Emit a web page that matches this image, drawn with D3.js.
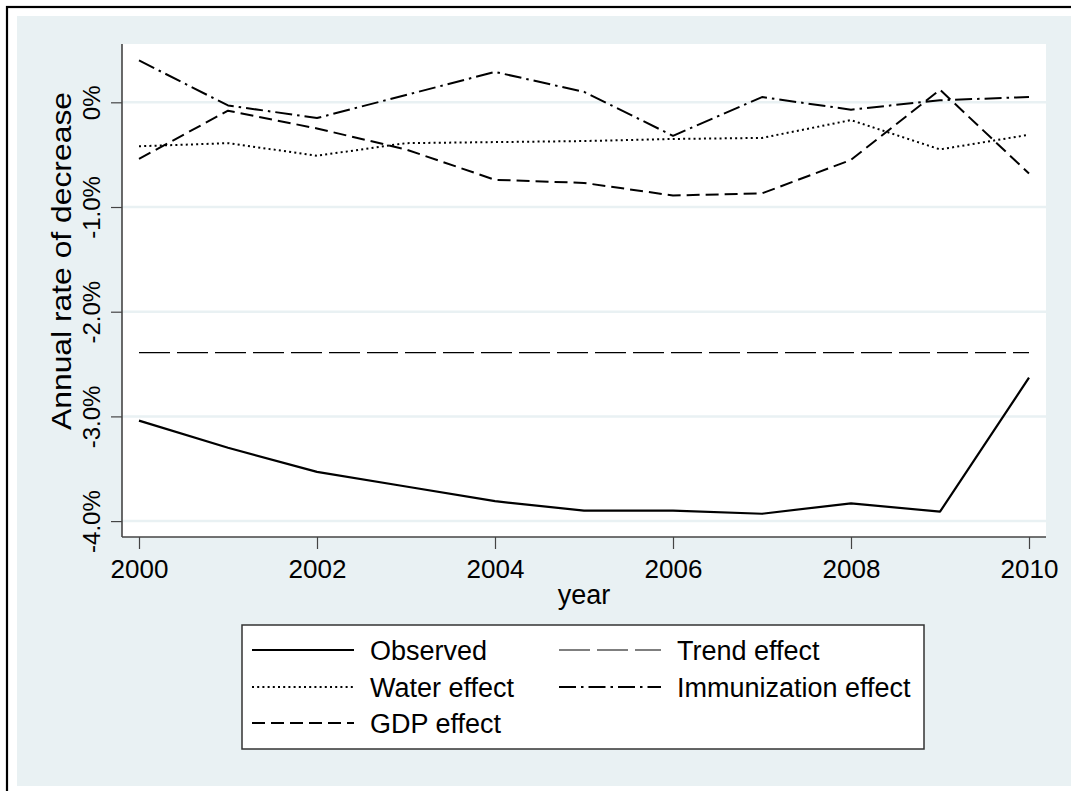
<!DOCTYPE html>
<html><head><meta charset="utf-8">
<script src="https://cdn.jsdelivr.net/npm/d3@7"></script>
<style>
html,body{margin:0;padding:0;background:#fff;}
svg{display:block;font-family:"Liberation Sans",Arial,Helvetica,sans-serif;}
</style></head>
<body>
<svg id="chart" width="1071" height="791"></svg>
<script>
const years = [2000,2001,2002,2003,2004,2005,2006,2007,2008,2009,2010];
const observed     = [-3.04,-3.30,-3.53,-3.67,-3.81,-3.90,-3.90,-3.93,-3.83,-3.91,-2.63];
const trendEffect  = [-2.39,-2.39,-2.39,-2.39,-2.39,-2.39,-2.39,-2.39,-2.39,-2.39,-2.39];
const waterEffect  = [-0.42,-0.39,-0.51,-0.39,-0.38,-0.37,-0.35,-0.34,-0.17,-0.45,-0.31];
const immunEffect  = [0.40,-0.03,-0.15,0.07,0.29,0.10,-0.32,0.05,-0.07,0.02,0.05];
const gdpEffect    = [-0.54,-0.08,-0.25,-0.45,-0.74,-0.77,-0.89,-0.87,-0.55,0.12,-0.68];
const yTicks = [0,-1,-2,-3,-4];
const yTickLabels = ["0%","-1.0%","-2.0%","-3.0%","-4.0%"];
const xTicks = [2000,2002,2004,2006,2008,2010];
const xTickLabels = ["2000","2002","2004","2006","2008","2010"];
const seriesNames = ["Observed","Trend effect","Water effect","Immunization effect","GDP effect"];

const styles = {
  "Observed":            {w:2.2, dash:null},
  "Trend effect":        {w:1.2, dash:"31,7"},
  "Water effect":        {w:2.0, dash:"2,3.2"},
  "Immunization effect": {w:2.0, dash:"17,5,2.5,5"},
  "GDP effect":          {w:2.0, dash:"13,6"}
};
const dataByName = {
  "Observed": observed, "Trend effect": trendEffect, "Water effect": waterEffect,
  "Immunization effect": immunEffect, "GDP effect": gdpEffect
};

const svg = d3.select("#chart");
const bgCol = "#e9f1f3";
// outer frame
svg.append("rect").attr("x",7).attr("y",7).attr("width",1200).attr("height",1000)
  .attr("fill","#fff").attr("stroke","#000").attr("stroke-width",2.2);
svg.append("rect").attr("x",17).attr("y",16).attr("width",1100).attr("height",770).attr("fill",bgCol);

const L=122, T=44, R=1046, B=537;
const x = d3.scaleLinear().domain([1999.809, 2010.191]).range([L,R]);
const y = d3.scaleLinear().domain([-4.152, 0.557]).range([B,T]);

svg.append("rect").attr("x",L).attr("y",T).attr("width",R-L).attr("height",B-T).attr("fill","#fff");

// gridlines
svg.append("g").selectAll("line").data(yTicks).join("line")
  .attr("x1",L).attr("x2",R).attr("y1",d=>y(d)).attr("y2",d=>y(d))
  .attr("stroke",bgCol).attr("stroke-width",2.5);

// axes
const axisCol = "#444";
const yAxis = d3.axisLeft(y).tickValues(yTicks).tickSize(11).tickFormat((d,i)=>yTickLabels[i]);
const gy = svg.append("g").attr("transform",`translate(${L},0)`).call(yAxis);
gy.select(".domain").attr("stroke",axisCol).attr("stroke-width",1.6).attr("d",`M0,${T}V${B}`);
gy.selectAll(".tick line").attr("stroke",axisCol).attr("stroke-width",1.2);
gy.selectAll(".tick text").attr("font-size",24).attr("fill","#000")
  .attr("font-family","Liberation Sans, Arial, sans-serif")
  .attr("text-anchor","middle").attr("x",0).attr("dy",0)
  .attr("transform","translate(-22,0) rotate(-90)").attr("y",0);

const xAxis = d3.axisBottom(x).tickValues(xTicks).tickSize(12).tickFormat((d,i)=>xTickLabels[i]);
const gx = svg.append("g").attr("transform",`translate(0,${B})`).call(xAxis);
gx.select(".domain").attr("stroke",axisCol).attr("stroke-width",1.6).attr("d",`M${L},0H${R}`);
gx.selectAll(".tick line").attr("stroke",axisCol).attr("stroke-width",1.2);
gx.selectAll(".tick text").attr("font-size",26).attr("fill","#000")
  .attr("font-family","Liberation Sans, Arial, sans-serif")
  .attr("dy",0).attr("y",41);

// axis titles
svg.append("text").attr("transform","translate(70.5,261) rotate(-90)")
  .attr("text-anchor","middle").attr("font-size",28).attr("fill","#000")
  .attr("textLength",338).attr("lengthAdjust","spacingAndGlyphs")
  .text("Annual rate of decrease");
svg.append("text").attr("x",(L+R)/2).attr("y",604).attr("text-anchor","middle")
  .attr("font-size",27).attr("fill","#000").text("year");

// lines
const line = d3.line().x((d,i)=>x(years[i])).y(d=>y(d));
const drawOrder = ["Trend effect","Water effect","GDP effect","Immunization effect","Observed"];
svg.append("g").selectAll("path").data(drawOrder).join("path")
  .attr("d",n=>line(dataByName[n]))
  .attr("fill","none").attr("stroke","#000")
  .attr("stroke-width",n=>styles[n].w)
  .attr("stroke-dasharray",n=>styles[n].dash)
  .attr("stroke-linejoin","round");

// legend
const lg = svg.append("g");
lg.append("rect").attr("x",242).attr("y",625).attr("width",682).attr("height",124)
  .attr("fill","#fff").attr("stroke","#333").attr("stroke-width",1.5);
const legendItems = [
  {name:"Observed", col:0,row:0},
  {name:"Trend effect", col:1,row:0},
  {name:"Water effect", col:0,row:1},
  {name:"Immunization effect", col:1,row:1},
  {name:"GDP effect", col:0,row:2}
];
const colX = [252, 559];
const rowY = [660, 697, 733];
const li = lg.selectAll("g.item").data(legendItems).join("g").attr("class","item");
li.append("line")
  .attr("x1",d=>colX[d.col]).attr("x2",d=>colX[d.col]+102)
  .attr("y1",d=>rowY[d.row]-10).attr("y2",d=>rowY[d.row]-10)
  .attr("stroke","#000").attr("stroke-width",d=>styles[d.name].w)
  .attr("stroke-dasharray",d=>styles[d.name].dash);
li.append("text").attr("x",d=>colX[d.col]+118).attr("y",d=>rowY[d.row])
  .attr("font-size",27).attr("fill","#000").text(d=>d.name);
</script>
</body></html>
